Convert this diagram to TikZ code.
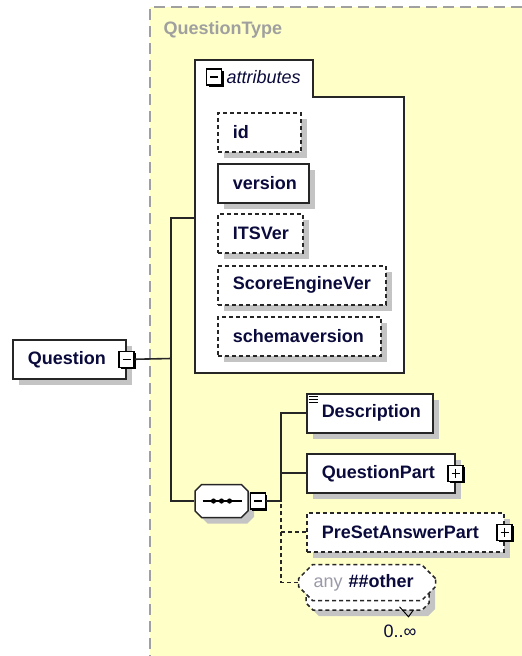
\documentclass[tikz,border=0pt]{standalone}
\usepackage{fontspec}
\setmainfont{Liberation Sans}
\usetikzlibrary{positioning,shapes.misc,shadows}

\definecolor{bgyellow}{HTML}{FFFFC8}
\definecolor{ink}{HTML}{0A0A3C}
\definecolor{framegray}{HTML}{A0A0A0}
\definecolor{shade}{HTML}{C4C4C4}
\definecolor{anygray}{HTML}{9A9AA8}

\tikzset{
  txt/.style={font=\fontsize{18}{21}\selectfont\bfseries, text=ink},
  box/.style={txt, draw=black!85, line width=1.5pt, fill=white, anchor=north west,
    minimum height=39pt, inner xsep=15pt, inner ysep=0pt, align=left},
  elem/.style={box, general shadow={fill=shade, shadow xshift=6pt, shadow yshift=-6pt}},
  optelem/.style={elem, dash pattern=on 4pt off 3pt},
  toggle/.style={draw=black, line width=1.3pt, fill=white, minimum width=15pt,
    minimum height=16pt, inner sep=0pt,
    general shadow={fill=black, shadow xshift=2pt, shadow yshift=-2pt}},
  minus/.style={toggle, path picture={
    \draw[line width=1.3pt] ([xshift=3.5pt]path picture bounding box.west)
      -- ([xshift=-3.5pt]path picture bounding box.east);}},
  plus/.style={toggle, path picture={
    \draw[line width=1.3pt] ([xshift=3.5pt]path picture bounding box.west)
      -- ([xshift=-3.5pt]path picture bounding box.east);
    \draw[line width=1.3pt] ([yshift=-3.5pt]path picture bounding box.north)
      -- ([yshift=3.5pt]path picture bounding box.south);}},
  octo/.style={chamfered rectangle, chamfered rectangle xsep=7pt,
    chamfered rectangle ysep=7pt},
  wire/.style={draw=black!85, line width=1.6pt},
  optwire/.style={wire, dash pattern=on 4pt off 3pt},
}

\begin{document}
\begin{tikzpicture}[x=1pt, y=-1pt]
\useasboundingbox (0,0) rectangle (522,656);

% QuestionType background
\fill[bgyellow] (150,7) rectangle (522,656);
\draw[framegray, line width=1.4pt, dash pattern=on 11pt off 6pt] (522,7) -- (150,7) -- (150,656);
\node[txt, text=framegray, anchor=west] (qtype) at (160,30) {QuestionType};

% attributes group
\draw[draw=black!85, line width=1.5pt, fill=white] (195,373) -- (195,60) -- (313,60) -- (313,97)
  -- (404,97) -- (404,373) -- cycle;
\node[minus] (attr-tog) at (214,77) {};
\node[txt, font=\fontsize{18}{21}\selectfont\itshape, anchor=west] (attr-lbl) at (223,77) {attributes};
\coordinate (attrs-in) at (195,218);
\foreach \nm/\txt/\y/\tw/\sty in {id/id/112/53/optelem, version/version/163/61/elem,
    itsver/ITSVer/213/55/optelem, score/ScoreEngineVer/265/138/optelem,
    schema/schemaversion/316/133/optelem}
  \node[\sty, text width=\tw pt] (attr-\nm) at (217,\y) {\txt};

% Question element
\node[elem, text width=83pt] (question) at (12,339) {Question};
\node[minus] (q-tog) at (question.east) {};

% sequence compositor
\node[octo, draw=black!85, line width=1.5pt, fill=white, minimum width=53pt, minimum height=33pt,
  general shadow={fill=shade, shadow xshift=6pt, shadow yshift=-6pt}] (seq) at (221.5,501) {};
\draw[line width=1.3pt] ([xshift=-19pt]seq.center) -- ([xshift=20pt]seq.center);
\foreach \dx in {-8,0,8}
  \fill ([xshift=\dx pt]seq.center) circle (2.6pt);
\node[minus, right=1pt of seq] (seq-tog) {};

\coordinate (fork) at (171,358.5);
\draw[wire] (q-tog.east) -- (fork);
\draw[wire] (attrs-in) -| (fork) |- (seq.west);

% children of the sequence
\node[elem, text width=96pt] (desc) at (306,393) {Description};
\foreach \dy in {3.5,6.5,9.5}
  \draw[line width=1pt] ([xshift=2.5pt, yshift=-\dy pt]desc.north west) -- ++(9,0);
\node[elem, text width=118pt] (qpart) at (306,453) {QuestionPart};
\node[plus] (qpart-tog) at (qpart.east) {};
\node[optelem, text width=167pt] (preset) at (306,512) {PreSetAnswerPart};
\node[plus] (preset-tog) at (preset.east) {};

% any ##other, 0..unbounded
\node[box, octo, dash pattern=on 4pt off 3pt, minimum width=123pt, minimum height=38pt,
  general shadow={fill=shade, shadow xshift=6pt, shadow yshift=-6pt}] (any-back) at (309,575) {};
\node[box, octo, dash pattern=on 4pt off 3pt, minimum width=123pt, minimum height=36pt,
  inner xsep=8pt, text width=107pt] (any) at (305,571)
  {\textcolor{anygray}{\mdseries any} \#\#other};
\node[font=\fontsize{18}{21}\selectfont, text=ink] (card) at (400,631) {0..∞};
\draw[line width=1pt] ([xshift=32pt, yshift=4pt]any-back.south) -- ++(9,10) -- ++(5,-7);

\coordinate (fork2) at (281,501);
\draw[wire] (seq-tog.east) -- (fork2);
\draw[wire] (desc.west) -| (fork2);
\draw[wire] (qpart.west) -| (fork2);
\draw[optwire] (any.west) -| (fork2);
\draw[optwire] (preset.west) -- (preset.west -| fork2);
\end{tikzpicture}
\end{document}
